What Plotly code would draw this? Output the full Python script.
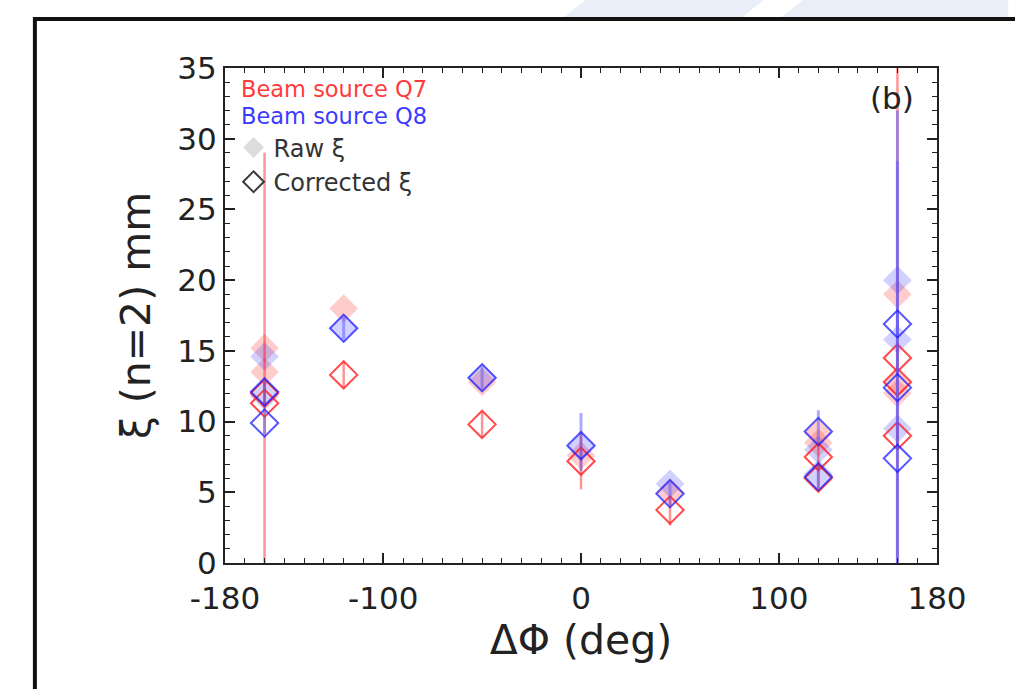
import plotly.graph_objects as go

# ---- data ----
q7_raw_x = [-160, -160, -120, -50, 0, 45, 120, 120, 160, 160, 160]
q7_raw_y = [15.2, 13.5, 18.0, 12.8, 7.6, 5.0, 9.2, 8.5, 19.0, 12.7, 12.0]

q8_raw_x = [-160, -160, -120, -50, 0, 45, 120, 120, 160, 160, 160]
q8_raw_y = [14.6, 11.8, 16.6, 13.1, 8.2, 5.6, 8.0, 6.3, 20.0, 15.8, 9.5]

q7_cor_x = [-160, -160, -120, -50, 0, 45, 120, 120, 160, 160, 160]
q7_cor_y = [12.0, 11.3, 13.3, 9.8, 7.2, 3.75, 7.5, 6.0, 14.5, 12.8, 9.0]
q7_cor_ep = [0.8, 17.7, 0.9, 0.9, 2.0, 1.0, 0.9, 0.9, 0.9, 25.0, 0.9]
q7_cor_em = [0.8, 12.0, 0.9, 0.9, 2.0, 1.1, 0.9, 0.8, 0.9, 13.0, 0.9]

q8_cor_x = [-160, -160, -120, -50, 0, 45, 120, 120, 160, 160, 160]
q8_cor_y = [12.1, 9.9, 16.6, 13.1, 8.3, 4.9, 9.3, 6.1, 16.9, 12.4, 7.4]
q8_cor_ep = [0.8, 0.8, 0.8, 0.8, 2.3, 0.8, 1.5, 0.8, 0.9, 19.6, 21.0]
q8_cor_em = [0.8, 0.8, 0.8, 0.8, 1.8, 0.8, 0.8, 0.8, 0.9, 13.0, 8.0]

x_ticks = [-180, -100, 0, 100, 180]
y_ticks = [0, 5, 10, 15, 20, 25, 30, 35]

FONT = "DejaVu Sans"
RAW_SIZE = 22
COR_SIZE = 21
RED_LINE = "rgba(255,30,30,0.8)"
BLUE_LINE = "rgba(30,30,255,0.75)"

fig = go.Figure()

fig.add_trace(go.Scatter(
    x=q7_raw_x, y=q7_raw_y, mode="markers", showlegend=False,
    marker=dict(symbol="diamond", size=RAW_SIZE, color="rgba(255,0,0,0.2)",
                line=dict(width=0))))
fig.add_trace(go.Scatter(
    x=q8_raw_x, y=q8_raw_y, mode="markers", showlegend=False,
    marker=dict(symbol="diamond", size=RAW_SIZE, color="rgba(0,0,255,0.18)",
                line=dict(width=0))))
fig.add_trace(go.Scatter(
    x=q7_cor_x, y=q7_cor_y, mode="markers", showlegend=False,
    error_y=dict(type="data", symmetric=False, array=q7_cor_ep, arrayminus=q7_cor_em,
                 color="rgba(255,0,0,0.42)", thickness=2.5, width=0),
    marker=dict(symbol="diamond-open", size=COR_SIZE, color=RED_LINE,
                line=dict(width=2, color=RED_LINE))))
fig.add_trace(go.Scatter(
    x=q8_cor_x, y=q8_cor_y, mode="markers", showlegend=False,
    error_y=dict(type="data", symmetric=False, array=q8_cor_ep, arrayminus=q8_cor_em,
                 color="rgba(90,90,255,0.5)", thickness=3, width=0),
    marker=dict(symbol="diamond-open", size=COR_SIZE, color=BLUE_LINE,
                line=dict(width=2, color=BLUE_LINE))))

# legend-only entries
fig.add_trace(go.Scatter(
    x=[None], y=[None], mode="markers", name="Raw ξ",
    marker=dict(symbol="diamond", size=RAW_SIZE, color="rgb(220,220,220)", line=dict(width=0))))
fig.add_trace(go.Scatter(
    x=[None], y=[None], mode="markers", name="Corrected ξ",
    marker=dict(symbol="diamond-open", size=COR_SIZE, color="rgb(60,60,60)",
                line=dict(width=2, color="rgb(60,60,60)"))))

axis_common = dict(
    showline=True, linecolor="#222", linewidth=2, mirror="allticks",
    ticks="inside", ticklen=10, tickwidth=1.5, tickcolor="#222",
    showgrid=False, zeroline=False,
    tickfont=dict(family=FONT, size=31, color="#222"),
)

fig.update_xaxes(
    range=[-180, 180], tickvals=x_ticks, ticktext=[str(v) for v in x_ticks],
    ticklabelstandoff=7,
    minor=dict(dtick=10, ticklen=5, ticks="inside", tickcolor="#222", tickwidth=1),
    title=dict(text="ΔΦ (deg)", font=dict(family=FONT, size=41, color="#222"), standoff=2),
    **axis_common)
fig.update_yaxes(
    range=[0, 35], tickvals=y_ticks, ticktext=[str(v) for v in y_ticks],
    minor=dict(dtick=1, ticklen=5, ticks="inside", tickcolor="#222", tickwidth=1),
    title=dict(text="ξ (n=2) mm", font=dict(family=FONT, size=41, color="#222"), standoff=14),
    **axis_common)

fig.update_layout(
    width=1015, height=689,
    margin=dict(l=225, r=78, t=68, b=126),
    plot_bgcolor="white", paper_bgcolor="white",
    showlegend=True,
    legend=dict(x=0.012, y=0.884, xanchor="left", yanchor="top",
                bgcolor="rgba(0,0,0,0)", font=dict(family=FONT, size=24, color="#333"),
                itemwidth=30, tracegroupgap=0),
    annotations=[
        dict(text="Beam source Q7", x=0.02, y=0.957, xref="paper", yref="paper",
             xanchor="left", yanchor="middle", showarrow=False,
             font=dict(family=FONT, size=22.5, color="#ff3b3b")),
        dict(text="Beam source Q8", x=0.02, y=0.903, xref="paper", yref="paper",
             xanchor="left", yanchor="middle", showarrow=False,
             font=dict(family=FONT, size=22.5, color="#3b3bff")),
        dict(text="(b)", x=0.97, y=0.94, xref="paper", yref="paper",
             xanchor="right", yanchor="middle", showarrow=False,
             font=dict(family=FONT, size=31, color="#222")),
    ],
    shapes=[
        # light slide decoration stripes at the top
        dict(type="path", xref="paper", yref="paper",
             path="M 0.507 1.138 L 0.757 1.138 L 0.725 1.101 L 0.475 1.101 Z",
             fillcolor="#e9eef8", line=dict(width=0), layer="below"),
        dict(type="path", xref="paper", yref="paper",
             path="M 0.812 1.138 L 1.1 1.138 L 1.1 1.101 L 0.78 1.101 Z",
             fillcolor="#e9eef8", line=dict(width=0), layer="below"),
        # outer frame of the panel
        dict(type="rect", xref="paper", yref="paper",
             x0=-0.267, x1=1.3, y0=-0.5, y1=1.099,
             line=dict(color="#111", width=4), fillcolor="rgba(0,0,0,0)"),
    ],
)

fig.write_html("out.html")
